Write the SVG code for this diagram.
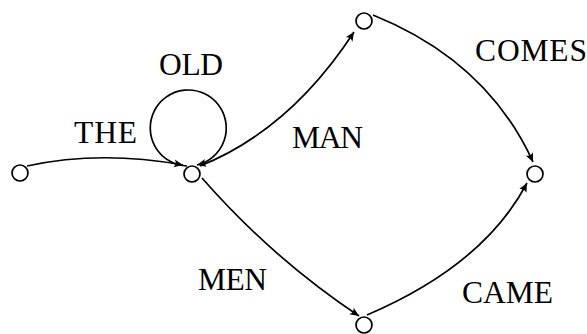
<svg xmlns="http://www.w3.org/2000/svg" width="587" height="334" viewBox="0 0 587 334">
<style>
.node{fill:#fff;stroke:#000;stroke-width:1.7}
.edge{fill:none;stroke:#000;stroke-width:1.7;marker-end:url(#arr)}
.lbl{font-family:'Liberation Serif','DejaVu Serif',serif;font-size:31.5px;fill:#000}
</style>
<defs>
<marker id="arr" markerUnits="userSpaceOnUse" viewBox="-10 -5 11 10" refX="0" refY="0" markerWidth="11" markerHeight="10" orient="auto">
<path d="M0,0 L-9,-4 Q-6,0 -9,4 Z" fill="#000"/>
</marker>
</defs>
<rect width="587" height="334" fill="#fff"/>
<g id="connectors">
<path class="edge" d="M27,166 Q100,150 183,165"/>
<path class="edge" d="M187,166 A38 38 0 1 1 197,165"/>
<path class="edge" d="M200,166 Q290,130 354,32"/>
<path class="edge" d="M373,15 Q487,61 533,162"/>
<path class="edge" d="M202,178 Q272,258 359,316"/>
<path class="edge" d="M367,315 Q484,265 527,183"/>
</g>
<g id="n0"><circle class="node" cx="20" cy="173" r="8"/></g>
<g id="n1"><circle class="node" cx="192" cy="174" r="8"/></g>
<g id="n2"><circle class="node" cx="364" cy="21" r="8"/></g>
<g id="n3"><circle class="node" cx="535" cy="174" r="8"/></g>
<g id="n4"><circle class="node" cx="364" cy="325" r="8"/></g>
<g id="labels" font-family="Liberation Serif, DejaVu Serif, serif">
<text class="lbl" x="74" y="143" textLength="63">THE</text>
<text class="lbl" x="159" y="75" textLength="64">OLD</text>
<text class="lbl" x="292" y="148" textLength="71">MAN</text>
<text class="lbl" x="475" y="61" textLength="112">COMES</text>
<text class="lbl" x="198" y="290" textLength="69">MEN</text>
<text class="lbl" x="462" y="303" textLength="91">CAME</text>
</g>
</svg>
